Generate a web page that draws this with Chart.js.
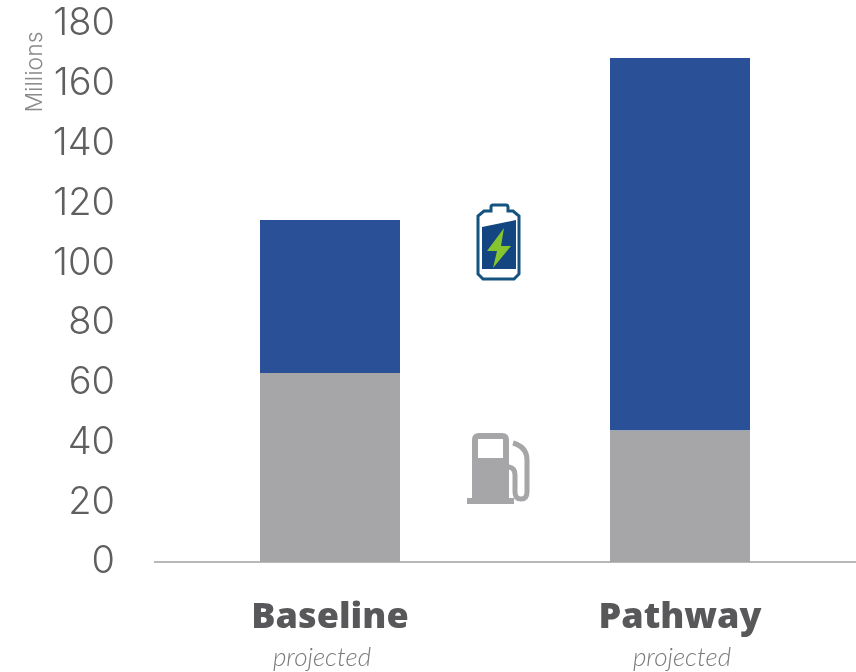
<!DOCTYPE html>
<html>
<head>
<meta charset="utf-8">
<title>Millions by scenario</title>
<script src="https://cdn.jsdelivr.net/npm/chart.js@4/dist/chart.umd.min.js"></script>
<style>
  body { margin: 0; background: #fff; }
  #wrap { position: relative; width: 856px; height: 672px; overflow: hidden; }
  #icons { position: absolute; left: 0; top: 0; pointer-events: none; }
</style>
</head>
<body>
<div id="wrap">
  <canvas id="chart" width="856" height="672"></canvas>
  <svg id="icons" width="856" height="672" viewBox="0 0 856 672">
    <!-- battery -->
    <path d="M491 211 v-4 q0 -2 2 -2 h13 q2 0 2 2 v4 h5 l6 5 v58 l-5 5 h-31 l-5 -5 v-58 l6 -5 z"
          fill="#fff" stroke="#14527f" stroke-width="3"/>
    <path d="M482 227 L516 220 V269 H482 Z" fill="#134680"/>
    <path d="M504 228 L487 251 H497 L493 268 L511 246 H501 Z" fill="#86c52f"/>
    <!-- fuel pump -->
    <path d="M472 498 V440 q0 -7 7 -7 h23 q7 0 7 7 v58 h5 v6 h-47 v-6 z M478 439 v19 h25 v-19 z"
          fill="#a6a6a8" fill-rule="evenodd"/>
    <path d="M513 443 q14 4 14 17 v32 q0 7 -6 7 q-6 0 -6 -7 v-17 q0 -7 -6 -8 h-5"
          fill="none" stroke="#a6a6a8" stroke-width="5"/>
  </svg>
</div>
<script>
var categories = ['Baseline', 'Pathway'];
var fuelValues = [63.2, 44];
var electricValues = [51.2, 124.6];
var yMax = 180;
var yStep = 20;

// unit label beside the y axis and the "projected" line under each category
var extraText = {
  id: 'extraText',
  afterDraw: function(chart) {
    var ctx = chart.ctx;
    var x = chart.scales.x;

    ctx.save();
    ctx.fillStyle = '#7a7a7a';
    ctx.font = 'italic 300 26px Lato';
    ctx.textAlign = 'center';
    ctx.textBaseline = 'alphabetic';
    categories.forEach(function(c, i) {
      ctx.fillText('projected', x.getPixelForTick(i) - (i ? -2 : 8), 666);
    });
    ctx.restore();

    ctx.save();
    ctx.translate(42, 72);
    ctx.rotate(-Math.PI / 2);
    ctx.fillStyle = '#8a8a8a';
    ctx.font = '300 23px Inter';
    ctx.textAlign = 'center';
    ctx.textBaseline = 'alphabetic';
    ctx.fillText('Millions', 0, 0);
    ctx.restore();
  }
};

new Chart(document.getElementById('chart'), {
  type: 'bar',
  data: {
    labels: categories,
    datasets: [
      { label: 'Fuel', data: fuelValues, backgroundColor: '#a6a6a8' },
      { label: 'Electric', data: electricValues, backgroundColor: '#2a5098' }
    ]
  },
  options: {
    responsive: false,
    animation: false,
    barPercentage: 0.4,
    categoryPercentage: 1,
    layout: { padding: { top: 24, right: 1 } },
    plugins: {
      legend: { display: false },
      tooltip: { enabled: false }
    },
    scales: {
      x: {
        stacked: true,
        grid: { display: false, drawTicks: false },
        border: { color: '#b8b8b8', width: 2 },
        ticks: {
          color: '#58585a',
          padding: 34,
          font: { family: 'Open Sans', size: 36, weight: '800' },
          maxRotation: 0
        },
        afterFit: function(scale) {
          scale.height = 110;
          scale.paddingLeft = 0;
          scale.paddingRight = 0;
        }
      },
      y: {
        stacked: true,
        min: 0,
        max: yMax,
        grid: { display: false, drawTicks: false },
        border: { display: false },
        ticks: {
          stepSize: yStep,
          color: '#5f5f61',
          padding: 40,
          font: { family: 'Inter', size: 38, weight: '300' }
        },
        afterFit: function(scale) {
          scale.width = 155;
          scale.paddingTop = 0;
          scale.paddingBottom = 0;
        }
      }
    }
  },
  plugins: [extraText]
});
</script>
</body>
</html>
